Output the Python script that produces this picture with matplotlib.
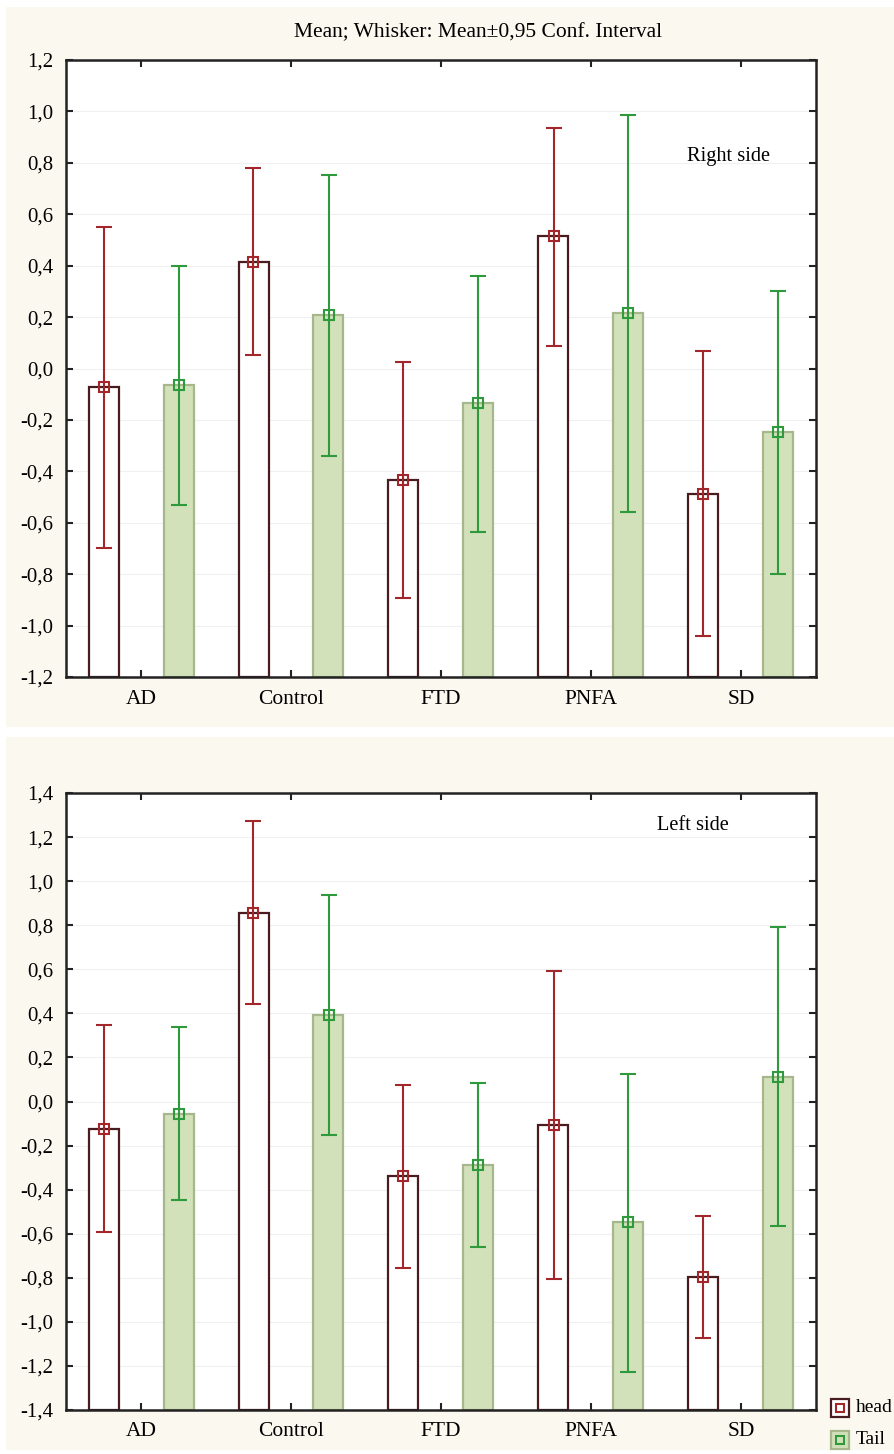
import numpy as np
import matplotlib
matplotlib.use("Agg")
import matplotlib.pyplot as plt
from matplotlib.patches import Rectangle
from matplotlib.lines import Line2D
from matplotlib.ticker import FuncFormatter, MultipleLocator

plt.rcParams["font.family"] = ["Liberation Serif", "DejaVu Serif"]

# Daten
gruppen = ["AD", "Control", "FTD", "PNFA", "SD"]

# rechte Seite
r_head_mean = [-0.071, 0.415, -0.432, 0.515, -0.488]
r_head_low = [-0.70, 0.053, -0.892, 0.086, -1.04]
r_head_high = [0.55, 0.78, 0.026, 0.937, 0.067]
r_tail_mean = [-0.064, 0.207, -0.136, 0.217, -0.248]
r_tail_low = [-0.53, -0.341, -0.637, -0.56, -0.80]
r_tail_high = [0.40, 0.752, 0.358, 0.986, 0.302]

# linke Seite
l_head_mean = [-0.123, 0.857, -0.337, -0.107, -0.797]
l_head_low = [-0.593, 0.444, -0.755, -0.806, -1.074]
l_head_high = [0.346, 1.271, 0.075, 0.594, -0.52]
l_tail_mean = [-0.058, 0.391, -0.289, -0.547, 0.112]
l_tail_low = [-0.449, -0.153, -0.66, -1.228, -0.566]
l_tail_high = [0.336, 0.939, 0.086, 0.127, 0.792]

# Farben
beige = "#fbf8f0"
head_edge = "#4a1c20"
head_err = "#a3262a"
tail_fill = "#d3e1bb"
tail_edge = "#a6b78c"
tail_err = "#2e9a3c"

W, H = 895, 1454
fig = plt.figure(figsize=(W / 100, H / 100), dpi=100)
fig.patch.set_facecolor("white")

# Hintergrund der Panels
for (y0, y1) in [(7, 727), (737, 1450)]:
    fig.add_artist(Rectangle((6 / W, 1 - y1 / H), (W - 6) / W, (y1 - y0) / H,
                             transform=fig.transFigure, facecolor=beige,
                             edgecolor="none", zorder=-10))

komma = FuncFormatter(lambda v, p: f"{v:.1f}".replace(".", ","))


def panel(ax, hm, hl, hh, tm, tl, th, ymax, label, lx, ly):
    x = np.arange(len(gruppen))
    unten = -ymax
    w = 0.2
    hm = np.array(hm); tm = np.array(tm)
    ax.bar(x - 0.25, hm - unten, bottom=unten, width=w, facecolor="white",
           edgecolor=head_edge, linewidth=1.6, zorder=2)
    ax.bar(x + 0.25, tm - unten, bottom=unten, width=w, facecolor=tail_fill,
           edgecolor=tail_edge, linewidth=1.6, zorder=2)
    ax.errorbar(x - 0.25, hm, yerr=[hm - np.array(hl), np.array(hh) - hm],
                fmt="s", color=head_err, mfc="none", mec=head_err, ms=7, mew=1.5,
                elinewidth=1.5, capsize=6, capthick=1.5, zorder=3)
    ax.errorbar(x + 0.25, tm, yerr=[tm - np.array(tl), np.array(th) - tm],
                fmt="s", color=tail_err, mfc="none", mec=tail_err, ms=7, mew=1.5,
                elinewidth=1.5, capsize=6, capthick=1.5, zorder=3)
    ax.set_xlim(-0.5, len(gruppen) - 0.5)
    ax.set_ylim(-ymax, ymax)
    ax.yaxis.set_major_locator(MultipleLocator(0.2))
    ax.yaxis.set_major_formatter(komma)
    ax.set_xticks(x)
    ax.set_xticklabels(gruppen)
    ax.grid(axis="y", color="#f0f0f0", linewidth=0.8, zorder=0)
    ax.set_axisbelow(True)
    ax.tick_params(direction="in", length=5, width=1.5, color="#222222",
                   top=True, right=True, pad=9)
    ax.tick_params(axis="y", labelsize=15)
    ax.tick_params(axis="x", labelsize=15.5)
    for s in ax.spines.values():
        s.set_linewidth(1.8)
        s.set_color("#222222")
    ax.text(lx, ly, label, transform=ax.transAxes, fontsize=14.7, va="center")


# Achsen in Pixeln
ax1 = fig.add_axes([66 / W, 1 - 677 / H, 750 / W, 617 / H])
ax2 = fig.add_axes([66 / W, 1 - 1410 / H, 750 / W, 617 / H])

panel(ax1, r_head_mean, r_head_low, r_head_high, r_tail_mean, r_tail_low,
      r_tail_high, 1.2, "Right side", (687 - 66) / 750, (677 - 157) / 617)
panel(ax2, l_head_mean, l_head_low, l_head_high, l_tail_mean, l_tail_low,
      l_tail_high, 1.4, "Left side", (657 - 66) / 750, (1410 - 826) / 617)

fig.text(478 / W, 1 - 33 / H, "Mean; Whisker: Mean\u00b10,95 Conf. Interval",
         ha="center", va="center", fontsize=15.5)

# Legende
for (yc, fc, ec, mc, txt) in [(1408, "white", head_edge, head_err, "head"),
                              (1440, tail_fill, tail_edge, tail_err, "Tail")]:
    fig.add_artist(Rectangle((831 / W, 1 - (yc + 9) / H), 18 / W, 18 / H,
                             transform=fig.transFigure, facecolor=fc,
                             edgecolor=ec, linewidth=1.6))
    fig.add_artist(Line2D([840 / W], [1 - yc / H], transform=fig.transFigure,
                          marker="s", ms=6, mfc="none", mec=mc, mew=1.5))
    fig.text(856 / W, 1 - yc / H, txt, fontsize=14, va="center")

fig.savefig("out.png", dpi=100)
